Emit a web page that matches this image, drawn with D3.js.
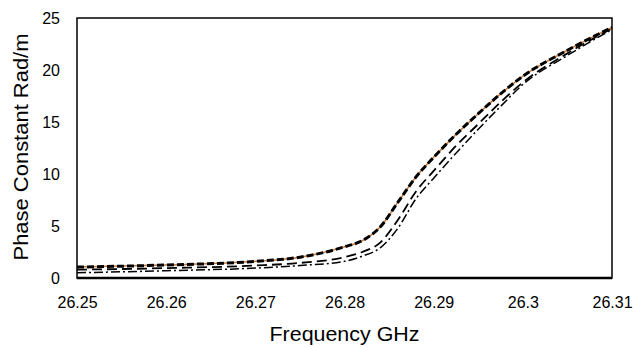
<!DOCTYPE html>
<html>
<head>
<meta charset="utf-8">
<script src="https://cdn.jsdelivr.net/npm/d3@7"></script>
<style>
  body { margin: 0; background: #fff; }
  text { font-family: "Liberation Sans", Arial, sans-serif; fill: #000; }
</style>
</head>
<body>
<svg id="chart" width="633" height="347"></svg>
<script>
// frequency points (GHz)
var freq = [26.25, 26.26, 26.27, 26.275, 26.28, 26.282, 26.284, 26.286, 26.288, 26.29, 26.2925, 26.295, 26.2975, 26.30, 26.305, 26.31];
// phase constant curves (rad/m)
var topCurve  = [1.05, 1.25, 1.6, 2.0, 3.0, 3.6, 4.9, 7.3, 9.7, 11.6, 13.8, 15.8, 17.7, 19.4, 21.9, 24.1];
var longDash  = [0.8, 0.95, 1.2, 1.45, 2.0, 2.5, 3.4, 5.6, 8.3, 10.3, 12.7, 14.8, 16.9, 18.8, 21.6, 24.0];
var dashDot   = [0.5, 0.7, 0.95, 1.2, 1.6, 2.1, 2.9, 4.8, 7.6, 9.6, 12.0, 14.3, 16.5, 18.6, 21.4, 23.9];
var xTicks = [26.25, 26.26, 26.27, 26.28, 26.29, 26.3, 26.31];
var yTicks = [0, 5, 10, 15, 20, 25];

var svg = d3.select("#chart");
var pl = 77, pr = 612, pt = 18, pb = 278;

var x = d3.scaleLinear().domain([26.25, 26.31]).range([pl, pr]);
var y = d3.scaleLinear().domain([0, 25]).range([pb, pt]);

function pts(vals) {
    return freq.map(function (f, i) { return [f, vals[i]]; });
}
var line = d3.line()
    .x(function (d) { return x(d[0]); })
    .y(function (d) { return y(d[1]); })
    .curve(d3.curveMonotoneX);

// axis labels
var xa = svg.append("g").attr("transform", "translate(0," + pb + ")")
    .call(d3.axisBottom(x).tickValues(xTicks).tickSize(0).tickPadding(19)
        .tickFormat(function (d) { return String(+d.toFixed(2)); }));
xa.select(".domain").remove();
xa.selectAll("text").style("font-size", "16px");

var ya = svg.append("g").attr("transform", "translate(" + pl + ",0)")
    .call(d3.axisLeft(y).tickValues(yTicks).tickSize(0).tickPadding(17));
ya.select(".domain").remove();
ya.selectAll("text").style("font-size", "16px");

// series
svg.append("path").datum(pts(longDash)).attr("d", line)
    .attr("fill", "none").attr("stroke", "#000").attr("stroke-width", 1.8)
    .attr("stroke-dasharray", "10,5");
svg.append("path").datum(pts(dashDot)).attr("d", line)
    .attr("fill", "none").attr("stroke", "#000").attr("stroke-width", 1.5)
    .attr("stroke-dasharray", "9,3,2,3");
svg.append("path").datum(pts(topCurve)).attr("d", line)
    .attr("fill", "none").attr("stroke", "#c87533").attr("stroke-width", 1.5);
svg.append("path").datum(pts(topCurve)).attr("d", line)
    .attr("fill", "none").attr("stroke", "#000").attr("stroke-width", 3)
    .attr("stroke-dasharray", "7,3");

// plot frame
svg.append("rect").attr("x", pl).attr("y", pt)
    .attr("width", pr - pl).attr("height", pb - pt)
    .attr("fill", "none").attr("stroke", "#000").attr("stroke-width", 1.5);
svg.append("line").attr("x1", pl).attr("x2", pr).attr("y1", pb).attr("y2", pb)
    .attr("stroke", "#000").attr("stroke-width", 2.5);

// axis titles
svg.append("text").attr("x", (pl + pr) / 2).attr("y", 341)
    .attr("text-anchor", "middle").style("font-size", "20px")
    .attr("textLength", 150).attr("lengthAdjust", "spacingAndGlyphs")
    .text("Frequency GHz");
svg.append("text").attr("transform", "translate(28,147) rotate(-90)")
    .attr("text-anchor", "middle").style("font-size", "20px")
    .attr("textLength", 227).attr("lengthAdjust", "spacingAndGlyphs")
    .text("Phase Constant Rad/m");
</script>
</body>
</html>
